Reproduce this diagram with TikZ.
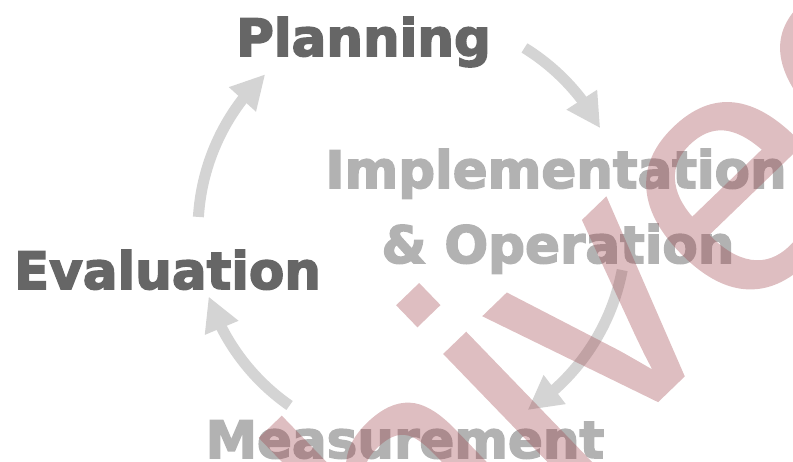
\documentclass[tikz,border=0pt]{standalone}
\usepackage{fontspec}
\setmainfont{DejaVu Sans}
\newfontfamily\lblfont[BoldFeatures={FakeBold=3}]{DejaVu Sans}
\newfontfamily\wmfont[FakeBold=0.5]{Liberation Sans}
\usetikzlibrary{arrows.meta,bending}
\definecolor{darktxt}{RGB}{102,102,102}
\definecolor{lighttxt}{RGB}{178,178,178}
\definecolor{arrowgray}{RGB}{212,212,212}
\definecolor{wmred}{RGB}{160,69,77}
\begin{document}
\begin{tikzpicture}[x=1pt,y=1pt,
  lbl/.style={font=\lblfont\fontsize{51.5}{60}\selectfont\bfseries, inner sep=0pt, anchor=base},
  darklbl/.style={lbl, text=darktxt},
  lightlbl/.style={lbl, text=lighttxt},
  cyc/.style={draw=arrowgray, line width=11pt, -{Triangle[width=34pt,length=34pt]}},
  wm/.style={font=\wmfont\fontsize{345}{400}\selectfont, text=wmred, inner sep=0pt, anchor=base west, rotate=44}]
\useasboundingbox (0,0) rectangle (793,-462);
\clip (0,0) rectangle (793,-462);
\coordinate (c) at (412,-230);
% cycle arrows
\draw[cyc] ([shift={(176.5:214)}]c) arc[start angle=176.5, end angle=133.3, radius=214];
\draw[cyc] ([shift={(58.3:214)}]c) arc[start angle=58.3, end angle=28.4, radius=214];
\draw[cyc] ([shift={(-10.8:214)}]c) arc[start angle=-10.8, end angle=-57.3, radius=214];
\draw[cyc] ([shift={(235.1:214)}]c) arc[start angle=235.1, end angle=198.1, radius=214];
% labels
\node[darklbl] (plan) at (363.5,-56) {Planning};
\node[lightlbl] (impl) at (556,-188) {Implementation};
\node[lightlbl] (oper) at (558,-263) {\& Operation};
\node[darklbl] (eval) at (167.5,-289) {Evaluation};
\node[lightlbl] (meas) at (405,-458) {Measurement};
% watermark
\begin{scope}[transparency group, opacity=0.35]
\node[wm] (mark) at (44,-994) {Archived};
\end{scope}
\end{tikzpicture}
\end{document}
